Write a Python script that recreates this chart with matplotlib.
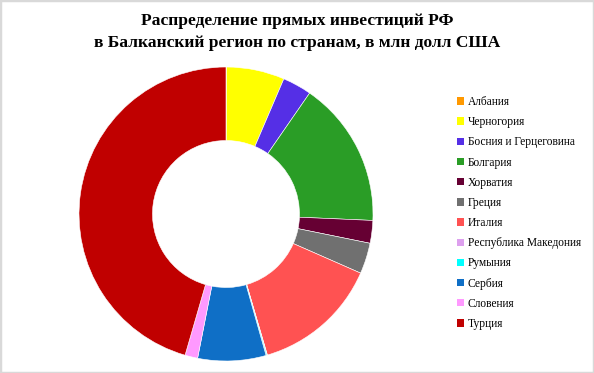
import matplotlib
matplotlib.use("Agg")
import matplotlib.pyplot as plt
from matplotlib.patches import Patch, Rectangle

countries = ["Албания", "Черногория", "Босния и Герцеговина", "Болгария", "Хорватия",
             "Греция", "Италия", "Республика Македония", "Румыния", "Сербия",
             "Словения", "Турция"]
values = [0.05, 6.4, 3.2, 16.1, 2.5, 3.4, 13.9, 0.05, 0.1, 7.5, 1.4, 45.6]
colors = ["#FF9900", "#FFFF00", "#552FE6", "#2A9D26", "#660033", "#707070",
          "#FF5252", "#DDA0EE", "#00FFFF", "#0F6FC6", "#FF99FF", "#C00000"]
title = "Распределение прямых инвестиций РФ\nв Балканский регион по странам, в млн долл США"

W, H = 594, 373
fig = plt.figure(figsize=(W / 100, H / 100), dpi=100)
fig.patch.set_facecolor("white")

cx, cy, r = 226, 214, 147
ax = fig.add_axes([(cx - r) / W, (H - cy - r) / H, 2 * r / W, 2 * r / H])
ax.pie(values, colors=colors, startangle=90, counterclock=False, radius=1,
       wedgeprops=dict(width=0.5, edgecolor="white", linewidth=0.4))
ax.set_xlim(-1, 1)
ax.set_ylim(-1, 1)
ax.set_aspect("equal")
ax.axis("off")

fig.text(0.5, (H - 32) / H, title, ha="center", va="center",
         family="Liberation Serif", fontweight="bold", fontsize=12.6,
         linespacing=1.5)

handles = [Patch(facecolor=c, edgecolor="none") for c in colors]
fig.legend(handles, countries, loc="upper left",
           bbox_to_anchor=(457 / W, (H - 96) / H), frameon=False,
           prop=dict(family="Liberation Serif", size=8.3),
           handlelength=0.6, handleheight=0.6, handletextpad=0.35,
           labelspacing=0.71, borderaxespad=0, borderpad=0)

fig.patches.append(Rectangle((0, 0), 1, 1, transform=fig.transFigure,
                             fill=False, edgecolor="#D9D9D9", linewidth=2.5))

fig.savefig("out.png", dpi=100)
